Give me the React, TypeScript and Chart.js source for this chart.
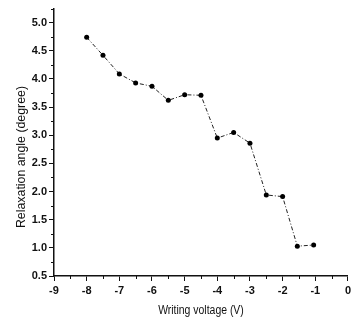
import React, { useEffect, useRef } from "react";
import { Chart, registerables } from "chart.js";

Chart.register(...registerables);

const voltages = [-8, -7.5, -7, -6.5, -6, -5.5, -5, -4.5, -4, -3.5, -3, -2.5, -2, -1.55, -1.05];
const angles = [4.74, 4.42, 4.09, 3.93, 3.87, 3.62, 3.72, 3.71, 2.95, 3.05, 2.86, 1.94, 1.91, 1.03, 1.05];
const yTickValues = [0.5, 1.0, 1.5, 2.0, 2.5, 3.0, 3.5, 4.0, 4.5, 5.0];
const xTickValues = [-9, -8, -7, -6, -5, -4, -3, -2, -1, 0];
const xMinorTicks = [-8.5, -7.5, -6.5, -5.5, -4.5, -3.5, -2.5, -1.5, -0.5];
const yMinorTicks = [0.75, 1.25, 1.75, 2.25, 2.75, 3.25, 3.75, 4.25, 4.75, 5.25];
const xTitle = "Writing voltage (V)";
const yTitle = "Relaxation angle (degree)";

const FONT = "'Liberation Sans Narrow', 'Liberation Sans', Arial, sans-serif";

const decorPlugin = {
  id: "decor",
  afterDraw(chart: any) {
    const ctx = chart.ctx;
    const xs = chart.scales.x;
    const ys = chart.scales.y;
    const area = chart.chartArea;
    ctx.save();
    ctx.strokeStyle = "#111";
    ctx.lineWidth = 1;
    ctx.beginPath();
    for (const v of xMinorTicks) {
      const px = Math.round(xs.getPixelForValue(v)) + 0.5;
      ctx.moveTo(px, area.bottom);
      ctx.lineTo(px, area.bottom + 3);
    }
    for (const v of yMinorTicks) {
      const py = Math.round(ys.getPixelForValue(v)) + 0.5;
      ctx.moveTo(area.left, py);
      ctx.lineTo(area.left - 3, py);
    }
    ctx.stroke();
    ctx.fillStyle = "#111";
    ctx.textAlign = "center";
    ctx.textBaseline = "middle";
    ctx.save();
    ctx.translate((area.left + area.right) / 2, 311);
    ctx.scale(0.87, 1);
    ctx.font = "12px " + FONT;
    ctx.fillText(xTitle, 0, 0);
    ctx.restore();
    ctx.translate(21, 157);
    ctx.rotate(-Math.PI / 2);
    ctx.scale(0.95, 1);
    ctx.font = "13px " + FONT;
    ctx.fillText(yTitle, 0, 0);
    ctx.restore();
  },
};

export default function App() {
  const ref = useRef<HTMLCanvasElement | null>(null);
  useEffect(() => {
    document.body.style.margin = "0";
    const canvas = ref.current;
    if (!canvas) return;
    const chart = new Chart(canvas, {
      type: "line",
      data: {
        datasets: [
          {
            data: voltages.map((v, i) => ({ x: v, y: angles[i] })),
            borderColor: "#222",
            borderWidth: 1,
            borderDash: [4, 2, 1, 2],
            pointBackgroundColor: "#000",
            pointBorderColor: "#000",
            pointRadius: 2.5,
            pointBorderWidth: 0,
            tension: 0,
            fill: false,
          },
        ],
      },
      options: {
        responsive: false,
        animation: false,
        devicePixelRatio: 1,
        layout: { padding: { left: 0, right: 4, top: 8, bottom: 0 } },
        plugins: { legend: { display: false }, tooltip: { enabled: false } },
        scales: {
          x: {
            type: "linear",
            min: -9,
            max: 0,
            afterBuildTicks: (s: any) => {
              s.ticks = xTickValues.map((v) => ({ value: v }));
            },
            afterFit: (s: any) => {
              s.height = 45;
            },
            border: { display: true, color: "#111", width: 1.5 },
            grid: { drawOnChartArea: false, drawTicks: true, tickLength: 5, color: "#111" },
            ticks: {
              color: "#111",
              padding: 3,
              maxRotation: 0,
              font: { family: FONT, size: 11, weight: "bold" },
              callback: (v: any) => String(v),
            },
          },
          y: {
            type: "linear",
            min: 0.5,
            max: 5.25,
            afterBuildTicks: (s: any) => {
              s.ticks = yTickValues.map((v) => ({ value: v }));
            },
            afterFit: (s: any) => {
              s.width = 54;
            },
            border: { display: true, color: "#111", width: 1.5 },
            grid: { drawOnChartArea: false, drawTicks: true, tickLength: 5, color: "#111" },
            ticks: {
              color: "#111",
              padding: 2,
              font: { family: FONT, size: 11, weight: "bold" },
              callback: (v: any) => Number(v).toFixed(1),
            },
          },
        },
      },
      plugins: [decorPlugin],
    } as any);
    return () => chart.destroy();
  }, []);
  return (
    <div style={{ width: 354, height: 321, background: "#fff" }}>
      <canvas ref={ref} width={354} height={321} style={{ display: "block" }} />
    </div>
  );
}
